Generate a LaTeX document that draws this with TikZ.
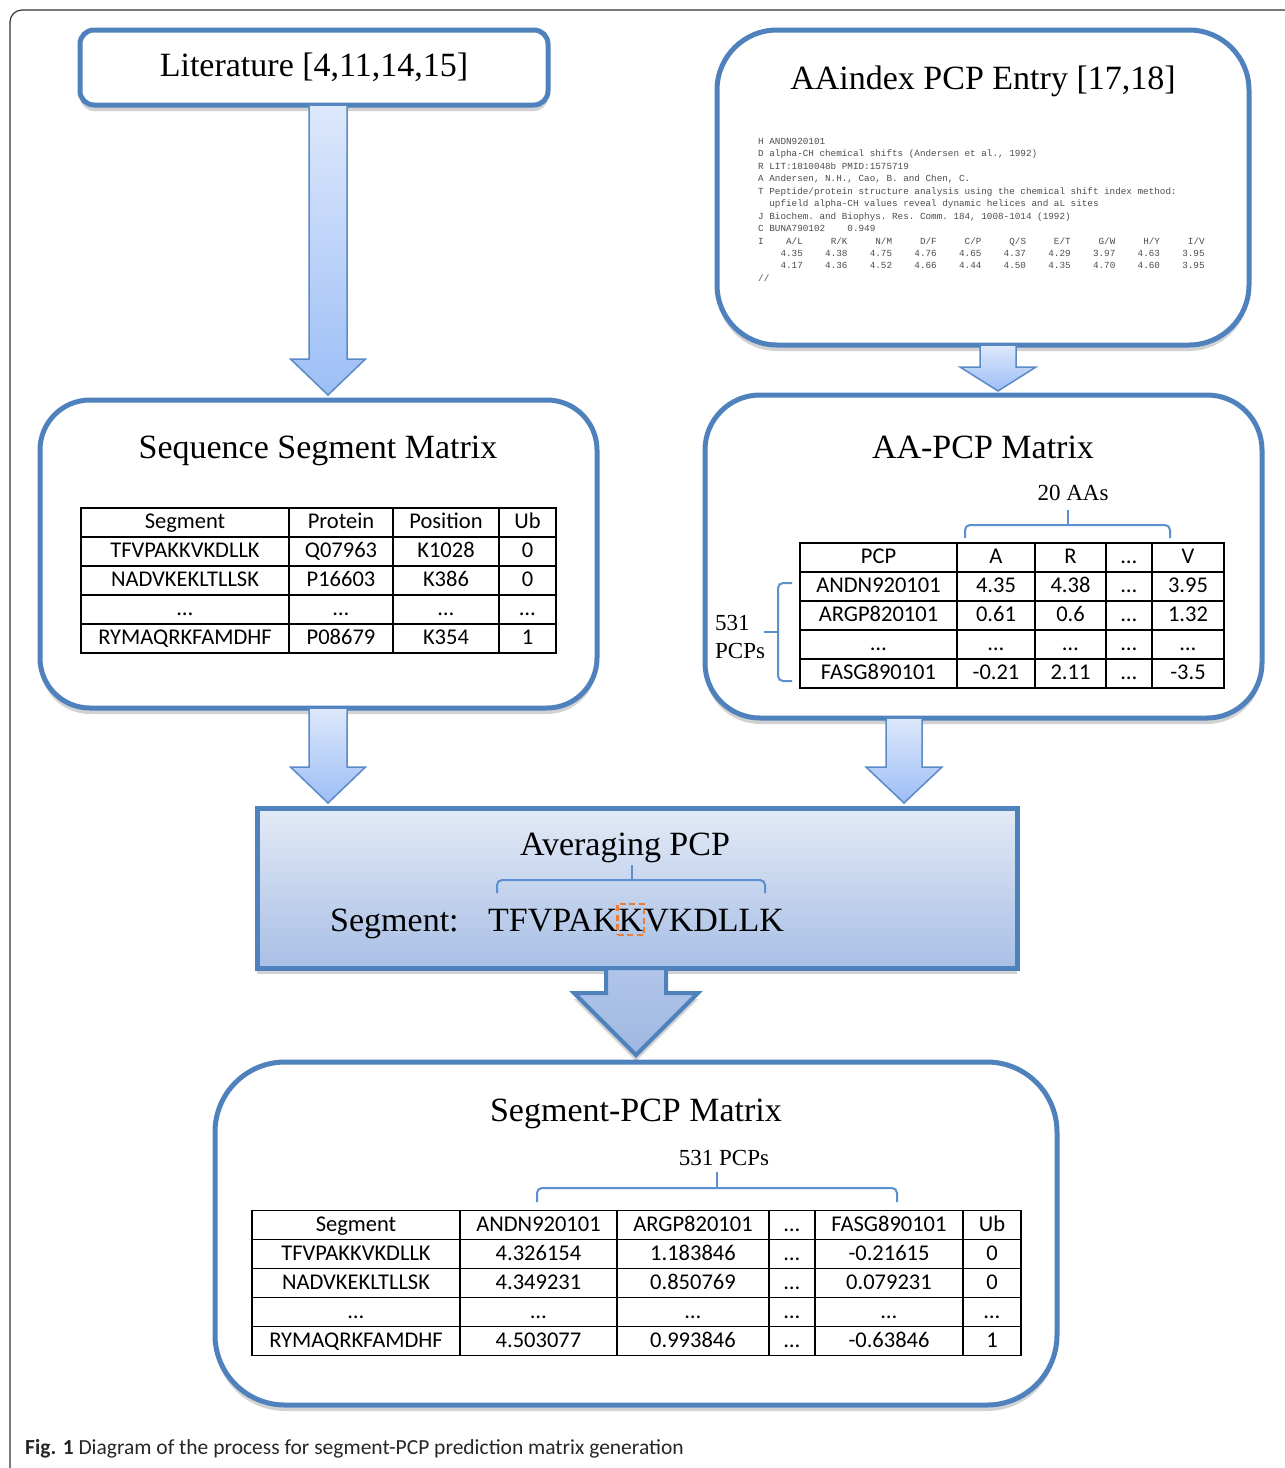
\documentclass[tikz,border=0pt]{standalone}
\usepackage{fontspec}
\setmainfont{Liberation Serif}
\setsansfont{Carlito}
\setmonofont{Liberation Mono}
\usetikzlibrary{matrix,shadows,calc,positioning}

\definecolor{boxblue}{HTML}{4F81BD}
\definecolor{arrowtop}{HTML}{DDE8FB}
\definecolor{arrowbot}{HTML}{9DBEF6}
\definecolor{arrowline}{HTML}{5A8AC6}
\definecolor{avgtop}{HTML}{E3EAF6}
\definecolor{avgbot}{HTML}{A8BFE5}
\definecolor{bigtop}{HTML}{B0C5E8}
\definecolor{bigbot}{HTML}{9FB7E1}
\definecolor{bracecol}{HTML}{5B8FCF}
\definecolor{korange}{HTML}{ED7D31}

\tikzset{
  softshadow/.style={drop shadow={shadow xshift=0pt, shadow yshift=-6pt, opacity=0.25, fill=black!70}},
  roundbox/.style={draw=boxblue, line width=5pt, fill=white, rounded corners=#1, outer sep=0pt, softshadow},
  ttl/.style={font=\fontsize{34}{40}\selectfont, inner sep=0pt},
  small/.style={font=\fontsize{23}{28}\selectfont, inner sep=0pt},
  flowarrow/.style={draw=arrowline, line width=1.5pt, top color=arrowtop, bottom color=arrowbot},
  bigarrow/.style={draw=boxblue, line width=4pt, top color=bigtop, bottom color=bigbot, softshadow},
  bracket/.style={draw=bracecol, line width=2pt, rounded corners=5pt},
  tab/.style={matrix of nodes, nodes in empty cells,
    nodes={draw, line width=1.3pt, minimum height=29pt, inner sep=0pt,
      text height=15pt, text depth=3pt, anchor=center,
      font=\sffamily\fontsize{22.5}{26}\selectfont},
    column sep=-1.3pt, row sep=-1.3pt},
  kbox/.style={draw=korange, dash pattern=on 6pt off 3.5pt, line width=2.5pt, inner xsep=1pt, inner ysep=0pt,
    outer sep=0pt, text height=27pt, text depth=4pt}
}

% block arrow: style, start, end, half shaft, half head, head length
\newcommand{\blockarrow}[6][flowarrow]{%
  \path[#1] let \p1=(#2), \p2=(#3) in
    (\x1-#4,\y1) -- (\x1+#4,\y1) -- (\x1+#4,\y2+#6) -- (\x1+#5,\y2+#6)
    -- (\x1,\y2) -- (\x1-#5,\y2+#6) -- (\x1-#4,\y2+#6) -- cycle;}

\begin{document}
\begin{tikzpicture}[x=1pt, y=-1pt]
\useasboundingbox (0,0) rectangle (1285,1468);

% Frame
\draw[black!80, line width=1.2pt, rounded corners=12pt] (10,1520) -- (10,10) -- (1320,10);

% Boxes
\node[roundbox=14pt, minimum width=468pt, minimum height=75pt, ttl] (lit) at (314,67.5) {Literature [4,11,14,15]};
\node[roundbox=60pt, minimum width=532pt, minimum height=315pt] (aaidx) at (983,187.5) {};
\node[roundbox=50pt, minimum width=557pt, minimum height=308pt] (seqbox) at (318.5,554) {};
\node[roundbox=55pt, minimum width=557pt, minimum height=323pt] (pcpbox) at (983.5,556.5) {};
\node[roundbox=70pt, minimum width=842pt, minimum height=343pt] (spbox) at (636,1233.5) {};

% Averaging box
\node[draw=boxblue, line width=5pt, top color=avgtop, bottom color=avgbot, outer sep=0pt,
  minimum width=760pt, minimum height=160pt, softshadow] (avgbox) at (637,888) {};

% Titles
\node[ttl] (aatitle) at (983,81) {AAindex PCP Entry [17,18]};
\node[ttl] (seqtitle) at (318,451) {Sequence Segment Matrix};
\node[ttl] (pcptitle) at (983,447) {AA-PCP Matrix};
\node[ttl] (avgtitle) at (625,848) {Averaging PCP};
\node[ttl] (sptitle) at (636,1114) {Segment-PCP Matrix};

% AAindex entry
\node[anchor=north west, inner sep=0pt, align=left, text=black!70,
  font=\ttfamily\fontsize{9.3}{12.45}\selectfont] (entry) at (758,138) {%
H~ANDN920101\\
D~alpha-CH~chemical~shifts~(Andersen~et~al.,~1992)\\
R~LIT:1810048b~PMID:1575719\\
A~Andersen,~N.H.,~Cao,~B.~and~Chen,~C.\\
T~Peptide/protein~structure~analysis~using~the~chemical~shift~index~method:\\
~~upfield~alpha-CH~values~reveal~dynamic~helices~and~aL~sites\\
J~Biochem.~and~Biophys.~Res.~Comm.~184,~1008-1014~(1992)\\
C~BUNA790102~~~~0.949\\
I~~~~A/L~~~~~R/K~~~~~N/M~~~~~D/F~~~~~C/P~~~~~Q/S~~~~~E/T~~~~~G/W~~~~~H/Y~~~~~I/V\\
~~~~4.35~~~~4.38~~~~4.75~~~~4.76~~~~4.65~~~~4.37~~~~4.29~~~~3.97~~~~4.63~~~~3.95\\
~~~~4.17~~~~4.36~~~~4.52~~~~4.66~~~~4.44~~~~4.50~~~~4.35~~~~4.70~~~~4.60~~~~3.95\\
//};

% Sequence segment table
\matrix (segtab) [tab,
  column 1/.style={nodes={minimum width=208pt}},
  column 2/.style={nodes={minimum width=104pt}},
  column 3/.style={nodes={minimum width=106pt}},
  column 4/.style={nodes={minimum width=57pt}}] at (318.5,580.5) {
Segment & Protein & Position & Ub \\
TFVPAKKVKDLLK & Q07963 & K1028 & 0 \\
NADVKEKLTLLSK & P16603 & K386 & 0 \\
… & … & … & … \\
RYMAQRKFAMDHF & P08679 & K354 & 1 \\
};

% AA-PCP table
\matrix (pcptab) [tab,
  column 1/.style={nodes={minimum width=157pt}},
  column 2/.style={nodes={minimum width=78pt}},
  column 3/.style={nodes={minimum width=71pt}},
  column 4/.style={nodes={minimum width=46pt}},
  column 5/.style={nodes={minimum width=72pt}}] at (1012,615.5) {
PCP & A & R & … & V \\
ANDN920101 & 4.35 & 4.38 & … & 3.95 \\
ARGP820101 & 0.61 & 0.6 & … & 1.32 \\
… & … & … & … & … \\
FASG890101 & -0.21 & 2.11 & … & -3.5 \\
};
\node[small] (aas) at (1073,493) {20 AAs};
\draw[bracket] (965,538) -- (965,525) -- (1170,525) -- (1170,538);
\draw[bracket] (1068,525) -- (1068,510);
\node[small, anchor=west, align=left, font=\fontsize{23}{28}\selectfont] (pcps) at (715,637) {531\\PCPs};
\draw[bracket] (792,583) -- (778,583) -- (778,681) -- (792,681);
\draw[bracket] (778,632) -- (764,632);

% Averaging segment
\node[ttl, anchor=base west] (seglab) at (330,931) {Segment:};
\node[ttl, anchor=base west] (seqa) at (488,931) {TFVPAK};
\node[ttl, kbox, anchor=base west] (seqk) at (seqa.base east) {K};
\node[ttl, anchor=base west] (seqb) at (seqk.base east) {VKDLLK};
\draw[bracket] (497,893) -- (497,880) -- (765,880) -- (765,893);
\draw[bracket] (632,880) -- (632,865);

% Segment-PCP table
\node[small] (spcps) at (724,1158) {531 PCPs};
\draw[bracket] (537,1202) -- (537,1188) -- (897,1188) -- (897,1202);
\draw[bracket] (717,1188) -- (717,1172);
\matrix (sptab) [tab,
  column 1/.style={nodes={minimum width=208pt}},
  column 2/.style={nodes={minimum width=157pt}},
  column 3/.style={nodes={minimum width=152pt}},
  column 4/.style={nodes={minimum width=46pt}},
  column 5/.style={nodes={minimum width=148pt}},
  column 6/.style={nodes={minimum width=58pt}}] at (636.5,1283) {
Segment & ANDN920101 & ARGP820101 & … & FASG890101 & Ub \\
TFVPAKKVKDLLK & 4.326154 & 1.183846 & … & -0.21615 & 0 \\
NADVKEKLTLLSK & 4.349231 & 0.850769 & … & 0.079231 & 0 \\
… & … & … & … & … & … \\
RYMAQRKFAMDHF & 4.503077 & 0.993846 & … & -0.63846 & 1 \\
};

% Arrows
\blockarrow{$(lit.south)+(14,0)$}{$(seqbox.north)+(0,-5)$}{19pt}{37.5pt}{36pt}
\blockarrow{$(aaidx.south)+(15,0)$}{$(pcpbox.north)+(0,-4)$}{18pt}{38pt}{24pt}
\blockarrow{$(seqbox.south)+(9.5,0)$}{$(avgbox.north)+(0,-5)$}{19pt}{37.5pt}{36pt}
\blockarrow{$(pcpbox.south)+(-79.5,0)$}{$(avgbox.north)+(0,-5)$}{18pt}{38pt}{36pt}
\blockarrow[bigarrow]{$(avgbox.south)+(-1,0)$}{$(spbox.north)+(0,-7)$}{30pt}{62pt}{62pt}

% Caption
\node[anchor=west, inner sep=0pt, text=black!85, font=\sffamily\fontsize{21.5}{26}\selectfont] (cap) at (25,1449)
  {\textbf{Fig. 1} Diagram of the process for segment-PCP prediction matrix generation};
\end{tikzpicture}
\end{document}
